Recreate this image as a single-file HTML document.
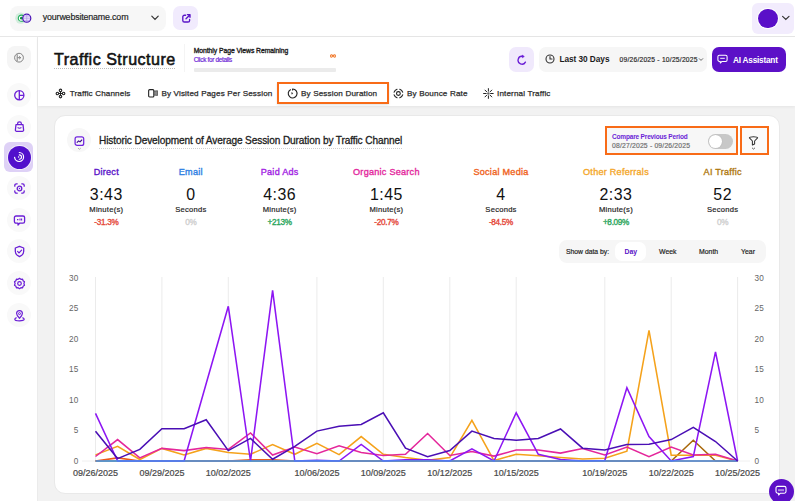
<!DOCTYPE html>
<html><head><meta charset="utf-8">
<style>
*{box-sizing:border-box;margin:0;padding:0}
html,body{width:795px;height:501px;overflow:hidden;background:#f2f2f2;font-family:"Liberation Sans",sans-serif;color:#1b1b1b}
.a{position:absolute}
.t{position:absolute;white-space:nowrap;line-height:1}
.md{-webkit-text-stroke:0.18px currentColor}
#top{left:0;top:0;width:795px;height:37px;background:#fff;border-bottom:1px solid #e7e7e7}
#side{left:0;top:37px;width:38px;height:464px;background:#fff;border-right:1px solid #ebebeb}
#hdr{left:38px;top:37px;width:757px;height:69px;background:#fff;box-shadow:0 1px 3px rgba(0,0,0,.06)}
.sbg{position:absolute;left:7px;width:24px;height:24px;border-radius:50%;background:#f9f9f9}
.card{left:54px;top:114.5px;width:725.5px;height:379px;background:#fff;border-radius:11px;border:1px solid #e9e9e9}
.stat{position:absolute;top:0;width:120px;text-align:center}
.stat .n{position:absolute;left:0;width:120px;top:167px;font-size:9.1px;line-height:10px;letter-spacing:0.25px;-webkit-text-stroke:0.35px currentColor}
.stat .v{position:absolute;left:0;width:120px;top:186px;font-size:15.9px;line-height:17px;color:#111;letter-spacing:0.5px}
.stat .u{position:absolute;left:0;width:120px;top:204.5px;font-size:7.6px;line-height:9px;color:#222;letter-spacing:0.25px}
.stat .p{position:absolute;left:0;width:120px;top:218.3px;font-size:8.2px;line-height:9px;letter-spacing:-0.3px;-webkit-text-stroke:0.35px currentColor}
.yl{font-size:8.2px;fill:#666;font-family:"Liberation Sans",sans-serif;letter-spacing:0.2px}
.xl{font-size:9px;fill:#4a4a4a;font-family:"Liberation Sans",sans-serif;stroke:#4a4a4a;stroke-width:0.22px}
.tab{font-size:8.1px;color:#2b2b2b;letter-spacing:0.15px;top:90.3px;-webkit-text-stroke:0.25px #2b2b2b}
</style></head><body>
<!-- top bar -->
<div id="top" class="a">
  <div class="a" style="left:10px;top:6px;width:156px;height:25px;border-radius:8px;background:#f7f7f7"></div>
  <svg class="a" style="left:12px;top:10px" width="24" height="16" viewBox="0 0 24 16">
    <circle cx="8.8" cy="8.2" r="5.6" fill="#d3ecdd"/>
    <circle cx="9.4" cy="8.2" r="3.1" fill="#fff" stroke="#1fae5c" stroke-width="1.1"/>
    <circle cx="9.4" cy="8.2" r="1.4" fill="#0f8f3d"/>
    <circle cx="14.75" cy="8.2" r="4" fill="#ece6fb" stroke="#4a12b5" stroke-width="1.3"/>
    <path d="M14.75 4.4v7.6M11 8.2h7.5M11.8 6h5.9M11.8 10.4h5.9" stroke="#a98ee8" stroke-width="0.6"/>
  </svg>
  <div class="t md" style="left:42.8px;top:12.9px;font-size:8.9px;letter-spacing:-0.17px;color:#1f1f1f">yourwebsitename.com</div>
  <svg class="a" style="left:150px;top:14px" width="10" height="8" viewBox="0 0 10 8"><path d="M1.8 2.2L5 5.4 8.2 2.2" fill="none" stroke="#333" stroke-width="1.2" stroke-linecap="round"/></svg>
  <div class="a" style="left:173.3px;top:6.3px;width:24.5px;height:23.4px;border-radius:7px;background:#f1ebfd"></div>
  <svg class="a" style="left:180.5px;top:12.5px" width="11" height="11" viewBox="0 0 11 11"><path d="M4.6 2.2H3.4A1.6 1.6 0 0 0 1.8 3.8v3.6A1.6 1.6 0 0 0 3.4 9h3.6A1.6 1.6 0 0 0 8.6 7.4V6.4M5 5.8l3.8-3.8M6.4 1.6h2.6v2.6" fill="none" stroke="#5a14c8" stroke-width="1.35" stroke-linecap="round" stroke-linejoin="round"/></svg>
  <div class="a" style="left:752px;top:3px;width:42px;height:31px;border-radius:6px;background:#f2ecfd"></div>
  <div class="a" style="left:758.3px;top:8.8px;width:19.4px;height:19.4px;border-radius:50%;background:#5a0fc8;box-shadow:0 0 0 1px #fff"></div>
  <svg class="a" style="left:780.5px;top:14px" width="10" height="8" viewBox="0 0 10 8"><path d="M1.6 2.4L4.8 5.4 8 2.4" fill="none" stroke="#333" stroke-width="1.2" stroke-linecap="round"/></svg>
</div>
<!-- sidebar -->
<div id="side" class="a">
</div>
<div class="a" style="left:7px;top:46px;width:24px;height:24px;border-radius:8px;background:#f5f5f5"></div>
<svg class="a" style="left:13px;top:52px" width="12" height="12" viewBox="0 0 12 12"><circle cx="6" cy="5.7" r="4.4" fill="none" stroke="#777" stroke-width="0.9"/><path d="M4.2 2.2v7M4.6 5.7h3M6.2 4.3l1.5 1.4-1.5 1.4" fill="none" stroke="#777" stroke-width="0.9"/></svg>
<div class="sbg" style="top:82.8px"></div>
<svg class="a" style="left:13px;top:88.5px" width="13" height="13" viewBox="0 0 13 13"><circle cx="6.3" cy="6.3" r="4.6" fill="none" stroke="#6a1dd6" stroke-width="1.3"/><path d="M6.3 1.7v9.2M6.3 6.3h4.6" stroke="#6a1dd6" stroke-width="1.3"/></svg>
<div class="sbg" style="top:114.5px"></div>
<svg class="a" style="left:13px;top:119.5px" width="13" height="13" viewBox="0 0 13 13"><path d="M3 4.6h7l.6 5.4a1.2 1.2 0 0 1-1.2 1.3H3.6A1.2 1.2 0 0 1 2.4 10z" fill="none" stroke="#6a1dd6" stroke-width="1.3" stroke-linejoin="round"/><path d="M4.6 4.6V3.8a1.9 1.9 0 0 1 3.8 0v.8M4.6 7.6q1.9 1.3 3.8 0" fill="none" stroke="#6a1dd6" stroke-width="1.2"/></svg>
<div class="a" style="left:4.4px;top:142px;width:29px;height:30px;border-radius:6px;background:#ded1f6"></div>
<div class="a" style="left:7.5px;top:145.5px;width:23px;height:23px;border-radius:50%;background:#5210cc;box-shadow:0 0 0 1px #f3effc"></div>
<svg class="a" style="left:12px;top:150px" width="14" height="14" viewBox="0 0 14 14"><path d="M7.3 2.5A4.5 4.5 0 1 1 2.6 7.4" fill="none" stroke="#fff" stroke-width="1.2" stroke-linecap="round"/><path d="M7.3 4.9A2.2 2.2 0 0 1 7.3 9.3" fill="none" stroke="#fff" stroke-width="1.1" stroke-linecap="round"/><circle cx="6.6" cy="7.1" r="0.75" fill="#fff"/></svg>
<div class="sbg" style="top:176px"></div>
<svg class="a" style="left:12.5px;top:181.5px" width="13" height="13" viewBox="0 0 13 13"><path d="M1.8 4.2V3.4a1.6 1.6 0 0 1 1.6-1.6h.8M8.8 1.8h.8a1.6 1.6 0 0 1 1.6 1.6v.8M11.2 8.8v.8a1.6 1.6 0 0 1-1.6 1.6h-.8M4.2 11.2h-.8a1.6 1.6 0 0 1-1.6-1.6v-.8" fill="none" stroke="#6a1dd6" stroke-width="1.3" stroke-linecap="round"/><circle cx="6.5" cy="6.5" r="2.3" fill="none" stroke="#6a1dd6" stroke-width="1.3"/><circle cx="6.5" cy="6.5" r="0.7" fill="#6a1dd6"/></svg>
<div class="sbg" style="top:208px"></div>
<svg class="a" style="left:12.5px;top:213.5px" width="13" height="13" viewBox="0 0 13 13"><path d="M3 2h7a1.6 1.6 0 0 1 1.6 1.6v4a1.6 1.6 0 0 1-1.6 1.6H6.6L5 11V9.2H3A1.6 1.6 0 0 1 1.4 7.6v-4A1.6 1.6 0 0 1 3 2z" fill="none" stroke="#6a1dd6" stroke-width="1.3" stroke-linejoin="round"/><path d="M4 5.6h1.4M7 4.6v2M8.6 4.6v2" stroke="#6a1dd6" stroke-width="1.1"/></svg>
<div class="sbg" style="top:239px"></div>
<svg class="a" style="left:12.5px;top:244.5px" width="13" height="13" viewBox="0 0 13 13"><path d="M6.5 1.4l4.2 1.6v3.2c0 2.6-1.8 4.4-4.2 5.4-2.4-1-4.2-2.8-4.2-5.4V3z" fill="none" stroke="#6a1dd6" stroke-width="1.3" stroke-linejoin="round"/><path d="M4.6 6.4l1.4 1.4 2.6-2.6" fill="none" stroke="#6a1dd6" stroke-width="1.2" stroke-linecap="round"/></svg>
<div class="sbg" style="top:271px"></div>
<svg class="a" style="left:12.5px;top:276.5px" width="13" height="13" viewBox="0 0 13 13"><path d="M6.5 1.3l1.4 1 1.7-.1.5 1.6 1.4 1-.6 1.7.6 1.7-1.4 1-.5 1.6-1.7-.1-1.4 1-1.4-1-1.7.1-.5-1.6-1.4-1 .6-1.7-.6-1.7 1.4-1 .5-1.6 1.7.1z" fill="none" stroke="#6a1dd6" stroke-width="1.2" stroke-linejoin="round"/><circle cx="6.5" cy="6.5" r="1.8" fill="none" stroke="#6a1dd6" stroke-width="1.2"/></svg>
<div class="sbg" style="top:303px"></div>
<svg class="a" style="left:12.5px;top:308.5px" width="13" height="13" viewBox="0 0 13 13"><path d="M6.5 9.2C4.6 7.4 3.6 6 3.6 4.6a2.9 2.9 0 0 1 5.8 0c0 1.4-1 2.8-2.9 4.6z" fill="none" stroke="#6a1dd6" stroke-width="1.2"/><circle cx="6.5" cy="4.6" r="1" fill="none" stroke="#6a1dd6" stroke-width="1"/><path d="M3.6 8.6C2.4 9 1.8 9.6 1.8 10.2c0 .9 2.1 1.6 4.7 1.6s4.7-.7 4.7-1.6c0-.6-.6-1.2-1.8-1.6" fill="none" stroke="#6a1dd6" stroke-width="1.2"/></svg>

<!-- header -->
<div id="hdr" class="a"></div>
<div class="t" style="left:54px;top:51.2px;font-size:16.1px;font-weight:400;letter-spacing:0.48px;-webkit-text-stroke:0.55px #121212;color:#121212">Traffic Structure</div>
<div class="a" style="left:54px;top:68px;width:121px;border-top:1px dotted #bdbdbd"></div>
<div class="a" style="left:184px;top:44px;width:1px;height:28px;background:#f4f4f4"></div>
<div class="t" style="left:193.7px;top:47.5px;font-size:6.8px;font-weight:400;letter-spacing:-0.05px;-webkit-text-stroke:0.35px #1f1f1f;color:#1f1f1f">Monthly Page Views Remaining</div>
<div class="t md" style="left:193.7px;top:56.7px;font-size:6.4px;letter-spacing:-0.3px;color:#6a1dd6">Click for details</div>
<svg class="a" style="left:329.5px;top:53.5px" width="6" height="4" viewBox="0 0 6 4"><path d="M3 2C2.3 1 1.8.8 1.3.8.8.8.6 1.3.6 2s.2 1.2.7 1.2c.5 0 1-.2 1.7-1.2C3.7 1 4.2.8 4.7.8c.5 0 .7.5.7 1.2s-.2 1.2-.7 1.2C4.2 3.2 3.7 3 3 2z" fill="none" stroke="#f07220" stroke-width="1.1"/></svg>
<div class="a" style="left:193.7px;top:67.8px;width:142px;height:4px;border-radius:1px;background:#ebebeb"></div>

<!-- right header -->
<div class="a" style="left:509.2px;top:47px;width:25px;height:24.6px;border-radius:7px;background:#f0e9fc"></div>
<svg class="a" style="left:515.5px;top:53.5px" width="12" height="12" viewBox="0 0 12 12"><path d="M9.4 8.1A3.9 3.9 0 1 1 6.7 2.4" fill="none" stroke="#6a1dd6" stroke-width="1.35" stroke-linecap="round"/><path d="M6.2 1.1L8.3 2.5 6.3 3.8z" fill="#6a1dd6" stroke="#6a1dd6" stroke-width="0.6" stroke-linejoin="round"/></svg>
<div class="a" style="left:539px;top:47px;width:168px;height:24.6px;border-radius:7px;background:#f6f6f6"></div>
<svg class="a" style="left:544px;top:53.2px" width="12" height="12" viewBox="0 0 12 12"><circle cx="6" cy="6" r="4" fill="none" stroke="#333" stroke-width="1.1"/><path d="M6 3.6V6h2" fill="none" stroke="#333" stroke-width="1.1" stroke-linecap="round"/></svg>
<div class="t" style="left:559.4px;top:55.6px;font-size:8.28px;font-weight:700;letter-spacing:-0.04px;color:#1b1b1b">Last 30 Days</div>
<div class="t md" style="left:619.5px;top:56.5px;font-size:6.7px;letter-spacing:0.23px;color:#2a2a2a">09/26/2025 - 10/25/2025</div>
<svg class="a" style="left:698px;top:56.5px" width="6" height="5" viewBox="0 0 6 5"><path d="M1 1.4L3 3.4 5 1.4" fill="none" stroke="#444" stroke-width="0.8"/></svg>
<div class="a" style="left:712px;top:47px;width:73.6px;height:24.7px;border-radius:7px;background:#5c10c7"></div>
<svg class="a" style="left:717px;top:54px" width="11" height="10" viewBox="0 0 11 10"><path d="M2.4 1.2h6.2A1.5 1.5 0 0 1 10.1 2.7v3.2a1.5 1.5 0 0 1-1.5 1.5H5L3.3 9V7.4h-.9A1.5 1.5 0 0 1 .9 5.9V2.7A1.5 1.5 0 0 1 2.4 1.2z" fill="none" stroke="#fff" stroke-width="1.05" stroke-linejoin="round"/><path d="M3.2 4.3h4.6" stroke="#fff" stroke-width="0.95"/></svg>
<div class="t" style="left:733px;top:56.9px;font-size:8.28px;font-weight:700;letter-spacing:-0.23px;color:#fff">AI Assistant</div>

<!-- tabs -->
<svg class="a" style="left:54px;top:87px" width="13" height="13" viewBox="0 0 13 13"><g fill="none" stroke="#222" stroke-width="1.1"><circle cx="6.5" cy="3.4" r="1.25"/><circle cx="6.5" cy="9.6" r="1.25"/><circle cx="3.4" cy="6.5" r="1.25"/><circle cx="9.6" cy="6.5" r="1.25"/></g><path d="M6.5 4.7v3.6M4.7 6.5h3.6" stroke="#222" stroke-width="1"/></svg>
<div class="t tab md" style="left:69.7px">Traffic Channels</div>
<svg class="a" style="left:147px;top:88px" width="12" height="11" viewBox="0 0 12 11"><rect x="1.65" y="1.65" width="5.2" height="7.3" rx="1" fill="none" stroke="#222" stroke-width="1.1"/><path d="M6.9 3.1l3.6-.4v4.8l-3.6-.4z" fill="#888" stroke="#444" stroke-width="0.7"/></svg>
<div class="t tab md" style="left:161.4px">By Visited Pages Per Session</div>
<div class="a" style="left:277.4px;top:82.2px;width:111.2px;height:21.6px;border:2.2px solid #f86b17;background:#fff;box-shadow:0 1px 2px rgba(0,0,0,.12)"></div>
<svg class="a" style="left:286px;top:87px" width="13" height="13" viewBox="0 0 13 13"><path d="M4.8 2.4A4.4 4.4 0 1 0 6.6 2" fill="none" stroke="#222" stroke-width="1.1" stroke-dasharray="14 0"/><path d="M6.6 1.8v1.6" stroke="#222" stroke-width="1.1"/><path d="M5.2 5.2l2 .9-1.4 1.6z" fill="#222"/></svg>
<div class="t tab md" style="left:301px">By Session Duration</div>
<svg class="a" style="left:392px;top:87px" width="13" height="13" viewBox="0 0 13 13"><path d="M10.68 7.89A4.5 4.5 0 0 1 7.79 10.78M5.01 10.78A4.5 4.5 0 0 1 2.12 7.89M2.12 5.11A4.5 4.5 0 0 1 5.01 2.22M7.79 2.22A4.5 4.5 0 0 1 10.68 5.11" fill="none" stroke="#222" stroke-width="1.15" stroke-linecap="round"/><circle cx="6.4" cy="6.5" r="1.9" fill="none" stroke="#222" stroke-width="1.1"/></svg>
<div class="t tab md" style="left:407px">By Bounce Rate</div>
<svg class="a" style="left:482px;top:87px" width="13" height="13" viewBox="0 0 13 13"><g stroke="#222" stroke-width="1" stroke-linecap="round"><path d="M6.4 1.6v2.6M6.4 8.8v2.6M1.6 6.5h2.6M8.6 6.5h2.6M3 3.1l1.7 1.7M8.1 8.2l1.7 1.7M9.8 3.1L8.1 4.8M4.7 8.2L3 9.9"/></g><circle cx="6.4" cy="6.5" r="1.2" fill="#666"/></svg>
<div class="t tab md" style="left:497px">Internal Traffic</div>

<!-- card -->
<div class="a card"></div>
<div class="a" style="left:67.2px;top:128.4px;width:24px;height:24px;border-radius:50%;background:#f7f7f7"></div>
<svg class="a" style="left:73px;top:135px" width="13" height="17" viewBox="0 0 13 17">
  <rect x="2.1" y="1.8" width="8.6" height="8.6" rx="2" fill="none" stroke="#7024de" stroke-width="1.25"/>
  <path d="M4.1 7.4L5.6 5.9 7 6.9 8.8 5" fill="none" stroke="#3c0f8c" stroke-width="1.1" stroke-linecap="round" stroke-linejoin="round"/>
  <path d="M5 13.1L6.4 14.3 7.8 13.1" fill="none" stroke="#999" stroke-width="0.8"/>
</svg>
<div class="t md" style="left:99px;top:136.2px;font-size:10.1px;letter-spacing:-0.11px;-webkit-text-stroke:0.3px #1d1d1d;color:#1d1d1d">Historic Development of Average Session Duration by Traffic Channel</div>
<div class="a" style="left:99px;top:147.5px;width:303px;border-top:1px dotted #cfcfcf"></div>

<div class="a" style="left:604.5px;top:126.2px;width:133.2px;height:29.2px;border:2.4px solid #f86b17;background:#f7f7f7"></div>
<div class="t" style="left:612px;top:133.6px;font-size:6.5px;font-weight:700;letter-spacing:-0.17px;color:#6a1dd6">Compare Previous Period</div>
<div class="t md" style="left:612px;top:143.3px;font-size:6.8px;letter-spacing:0.18px;color:#6f6f6f">08/27/2025 - 09/26/2025</div>
<div class="a" style="left:707.7px;top:133.9px;width:25.2px;height:15.1px;border-radius:8px;background:#c8c8c8"></div>
<div class="a" style="left:708.9px;top:135.1px;width:12.7px;height:12.7px;border-radius:50%;background:#fff;box-shadow:0 0 1px rgba(0,0,0,.25)"></div>
<div class="a" style="left:739.7px;top:126.2px;width:29px;height:29.2px;border:2.4px solid #f86b17;background:#fafafa"></div>
<svg class="a" style="left:747px;top:134px" width="13" height="17" viewBox="0 0 13 17">
  <path d="M2.4 3.8C2.4 3 4.2 2.7 6.5 2.7s4.1.3 4.1 1.1L7.6 7v3L5.4 11V7z" fill="none" stroke="#333" stroke-width="1.05" stroke-linejoin="round"/>
  <path d="M5 13.8L6.5 15.1 8 13.8" fill="none" stroke="#555" stroke-width="0.9"/>
</svg>
<div class="stat" style="left:46.3px"><div class="n" style="color:#5a14c8">Direct</div><div class="v">3:43</div><div class="u md">Minute(s)</div><div class="p" style="color:#e5483a">-31.3%</div></div>
<div class="stat" style="left:130.8px"><div class="n" style="color:#2f7fe3">Email</div><div class="v">0</div><div class="u md">Seconds</div><div class="p" style="color:#cfcfcf">0%</div></div>
<div class="stat" style="left:219.7px"><div class="n" style="color:#a21ee3">Paid Ads</div><div class="v">4:36</div><div class="u md">Minute(s)</div><div class="p" style="color:#2aa55b">+213%</div></div>
<div class="stat" style="left:326.4px"><div class="n" style="color:#e3289d">Organic Search</div><div class="v">1:45</div><div class="u md">Minute(s)</div><div class="p" style="color:#e5483a">-20.7%</div></div>
<div class="stat" style="left:441.0px"><div class="n" style="color:#ef6321">Social Media</div><div class="v">4</div><div class="u md">Seconds</div><div class="p" style="color:#e5483a">-84.5%</div></div>
<div class="stat" style="left:556.0px"><div class="n" style="color:#f4a72a">Other Referrals</div><div class="v">2:33</div><div class="u md">Minute(s)</div><div class="p" style="color:#2aa55b">+8.09%</div></div>
<div class="stat" style="left:662.7px"><div class="n" style="color:#b07a12">AI Traffic</div><div class="v">52</div><div class="u md">Seconds</div><div class="p" style="color:#cfcfcf">0%</div></div>
<div class="a" style="left:559px;top:240px;width:207px;height:23px;border-radius:8px;background:#f6f6f6"></div>
<div class="t md" style="left:566px;top:249px;font-size:6.8px;color:#222">Show data by:</div>
<div class="a" style="left:615px;top:242px;width:31px;height:19px;border-radius:7px;background:#fff"></div>
<div class="t" style="left:624.5px;top:249px;font-size:6.9px;font-weight:700;color:#5a14c8">Day</div>
<div class="t md" style="left:659px;top:249px;font-size:6.9px;color:#222">Week</div>
<div class="t md" style="left:699px;top:249px;font-size:6.9px;color:#222">Month</div>
<div class="t md" style="left:741px;top:249px;font-size:6.9px;color:#222">Year</div>

<svg class="a" style="left:0;top:0" width="795" height="501" viewBox="0 0 795 501">
<line x1="95.5" y1="277" x2="95.5" y2="461" stroke="#ebebeb" stroke-width="1"/>
<line x1="161.9" y1="277" x2="161.9" y2="461" stroke="#ebebeb" stroke-width="1"/>
<line x1="228.3" y1="277" x2="228.3" y2="461" stroke="#ebebeb" stroke-width="1"/>
<line x1="316.9" y1="277" x2="316.9" y2="461" stroke="#ebebeb" stroke-width="1"/>
<line x1="383.3" y1="277" x2="383.3" y2="461" stroke="#ebebeb" stroke-width="1"/>
<line x1="449.8" y1="277" x2="449.8" y2="461" stroke="#ebebeb" stroke-width="1"/>
<line x1="516.2" y1="277" x2="516.2" y2="461" stroke="#ebebeb" stroke-width="1"/>
<line x1="604.8" y1="277" x2="604.8" y2="461" stroke="#ebebeb" stroke-width="1"/>
<line x1="671.2" y1="277" x2="671.2" y2="461" stroke="#ebebeb" stroke-width="1"/>
<line x1="737.6" y1="277" x2="737.6" y2="461" stroke="#ebebeb" stroke-width="1"/>
<line x1="82" y1="461" x2="750" y2="461" stroke="#f0f0f0" stroke-width="1"/>
<polyline points="95.5,461.0 117.6,461.0 139.8,461.0 161.9,461.0 184.1,461.0 206.2,461.0 228.3,461.0 250.5,461.0 272.6,461.0 294.8,461.0 316.9,461.0 339.1,461.0 361.2,461.0 383.3,461.0 405.5,461.0 427.6,461.0 449.8,461.0 471.9,461.0 494.0,461.0 516.2,461.0 538.3,461.0 560.5,461.0 582.6,461.0 604.8,461.0 626.9,461.0 649.0,461.0 671.2,461.0 693.3,440.2 715.5,461.0 737.6,461.0" fill="none" stroke="#a8670a" stroke-width="1.55" stroke-linejoin="miter"/>
<polyline points="95.5,454.9 117.6,446.4 139.8,459.5 161.9,448.4 184.1,454.9 206.2,448.4 228.3,452.5 250.5,454.3 272.6,444.5 294.8,454.3 316.9,443.3 339.1,454.6 361.2,436.6 383.3,454.3 405.5,457.6 427.6,460.2 449.8,457.6 471.9,420.3 494.0,460.6 516.2,454.3 538.3,455.8 560.5,457.6 582.6,459.0 604.8,458.2 626.9,451.2 649.0,330.4 671.2,455.2 693.3,455.2 715.5,455.2 737.6,461.0" fill="none" stroke="#f5a21b" stroke-width="1.55" stroke-linejoin="miter"/>
<polyline points="95.5,461.0 117.6,457.9 139.8,461.0 161.9,461.0 184.1,461.0 206.2,461.0 228.3,461.0 250.5,459.8 272.6,459.8 294.8,461.0 316.9,461.0 339.1,461.0 361.2,461.0 383.3,461.0 405.5,461.0 427.6,461.0 449.8,461.0 471.9,461.0 494.0,461.0 516.2,461.0 538.3,461.0 560.5,461.0 582.6,461.0 604.8,461.0 626.9,461.0 649.0,461.0 671.2,461.0 693.3,461.0 715.5,461.0 737.6,461.0" fill="none" stroke="#ec5b1c" stroke-width="1.55" stroke-linejoin="miter"/>
<polyline points="95.5,456.5 117.6,439.6 139.8,457.9 161.9,448.4 184.1,450.6 206.2,447.6 228.3,449.4 250.5,432.9 272.6,455.1 294.8,447.0 316.9,453.7 339.1,445.7 361.2,452.5 383.3,455.5 405.5,454.3 427.6,433.5 449.8,455.5 471.9,451.5 494.0,456.1 516.2,450.0 538.3,450.0 560.5,453.1 582.6,448.5 604.8,454.9 626.9,447.0 649.0,456.7 671.2,447.0 693.3,454.9 715.5,454.3 737.6,461.0" fill="none" stroke="#e4279b" stroke-width="1.55" stroke-linejoin="miter"/>
<polyline points="95.5,413.4 117.6,461.0 139.8,461.0 161.9,461.0 184.1,461.0 206.2,383.5 228.3,306.3 250.5,461.0 272.6,290.4 294.8,461.0 316.9,460.4 339.1,461.0 361.2,444.5 383.3,461.0 405.5,459.8 427.6,459.8 449.8,461.0 471.9,448.8 494.0,461.0 516.2,412.8 538.3,454.3 560.5,459.6 582.6,461.0 604.8,460.6 626.9,387.8 649.0,436.6 671.2,461.0 693.3,456.6 715.5,351.8 737.6,461.0" fill="none" stroke="#8d16f3" stroke-width="1.55" stroke-linejoin="miter"/>
<polyline points="95.5,461.0 117.6,461.0 139.8,461.0 161.9,461.0 184.1,461.0 206.2,461.0 228.3,461.0 250.5,461.0 272.6,461.0 294.8,461.0 316.9,461.0 339.1,461.0 361.2,461.0 383.3,461.0 405.5,461.0 427.6,461.0 449.8,461.0 471.9,461.0 494.0,461.0 516.2,461.0 538.3,461.0 560.5,461.0 582.6,461.0 604.8,461.0 626.9,461.0 649.0,461.0 671.2,461.0 693.3,461.0 715.5,461.0 737.6,461.0" fill="none" stroke="#3f9af5" stroke-width="1.55" stroke-linejoin="miter"/>
<polyline points="95.5,431.3 117.6,458.6 139.8,449.4 161.9,428.7 184.1,428.7 206.2,419.8 228.3,450.6 250.5,438.4 272.6,459.2 294.8,446.4 316.9,431.1 339.1,426.2 361.2,424.4 383.3,412.8 405.5,448.2 427.6,456.7 449.8,450.6 471.9,431.1 494.0,438.4 516.2,440.2 538.3,438.4 560.5,429.0 582.6,448.2 604.8,450.0 626.9,444.5 649.0,444.2 671.2,439.6 693.3,427.4 715.5,441.5 737.6,461.0" fill="none" stroke="#4a0fb5" stroke-width="1.55" stroke-linejoin="miter"/>
<text x="78.6" y="463.9" text-anchor="end" class="yl">0</text>
<text x="754.6" y="463.9" class="yl">0</text>
<text x="78.6" y="433.4" text-anchor="end" class="yl">5</text>
<text x="754.6" y="433.4" class="yl">5</text>
<text x="78.6" y="402.9" text-anchor="end" class="yl">10</text>
<text x="754.6" y="402.9" class="yl">10</text>
<text x="78.6" y="372.4" text-anchor="end" class="yl">15</text>
<text x="754.6" y="372.4" class="yl">15</text>
<text x="78.6" y="341.8" text-anchor="end" class="yl">20</text>
<text x="754.6" y="341.8" class="yl">20</text>
<text x="78.6" y="311.3" text-anchor="end" class="yl">25</text>
<text x="754.6" y="311.3" class="yl">25</text>
<text x="78.6" y="280.8" text-anchor="end" class="yl">30</text>
<text x="754.6" y="280.8" class="yl">30</text>
<text x="95.5" y="476.2" text-anchor="middle" class="xl">09/26/2025</text>
<text x="161.9" y="476.2" text-anchor="middle" class="xl">09/29/2025</text>
<text x="228.3" y="476.2" text-anchor="middle" class="xl">10/02/2025</text>
<text x="316.9" y="476.2" text-anchor="middle" class="xl">10/06/2025</text>
<text x="383.3" y="476.2" text-anchor="middle" class="xl">10/09/2025</text>
<text x="449.8" y="476.2" text-anchor="middle" class="xl">10/12/2025</text>
<text x="516.2" y="476.2" text-anchor="middle" class="xl">10/15/2025</text>
<text x="604.8" y="476.2" text-anchor="middle" class="xl">10/19/2025</text>
<text x="671.2" y="476.2" text-anchor="middle" class="xl">10/22/2025</text>
<text x="737.6" y="476.2" text-anchor="middle" class="xl">10/25/2025</text>
</svg>
<div class="a" style="left:768.5px;top:478.5px;width:25px;height:25px;border-radius:50%;background:#5c10c7"></div>
<svg class="a" style="left:775px;top:485px" width="12" height="11" viewBox="0 0 12 11"><path d="M2.6 1.4h6.8A1.6 1.6 0 0 1 11 3v3.6a1.6 1.6 0 0 1-1.6 1.6H5.4L3.6 10V8.2h-1A1.6 1.6 0 0 1 1 6.6V3a1.6 1.6 0 0 1 1.6-1.6z" fill="none" stroke="#fff" stroke-width="1.1" stroke-linejoin="round"/><path d="M4 4.2v2M6 4.2v2M8 4.2v2" stroke="#fff" stroke-width="1"/></svg>
</body></html>
